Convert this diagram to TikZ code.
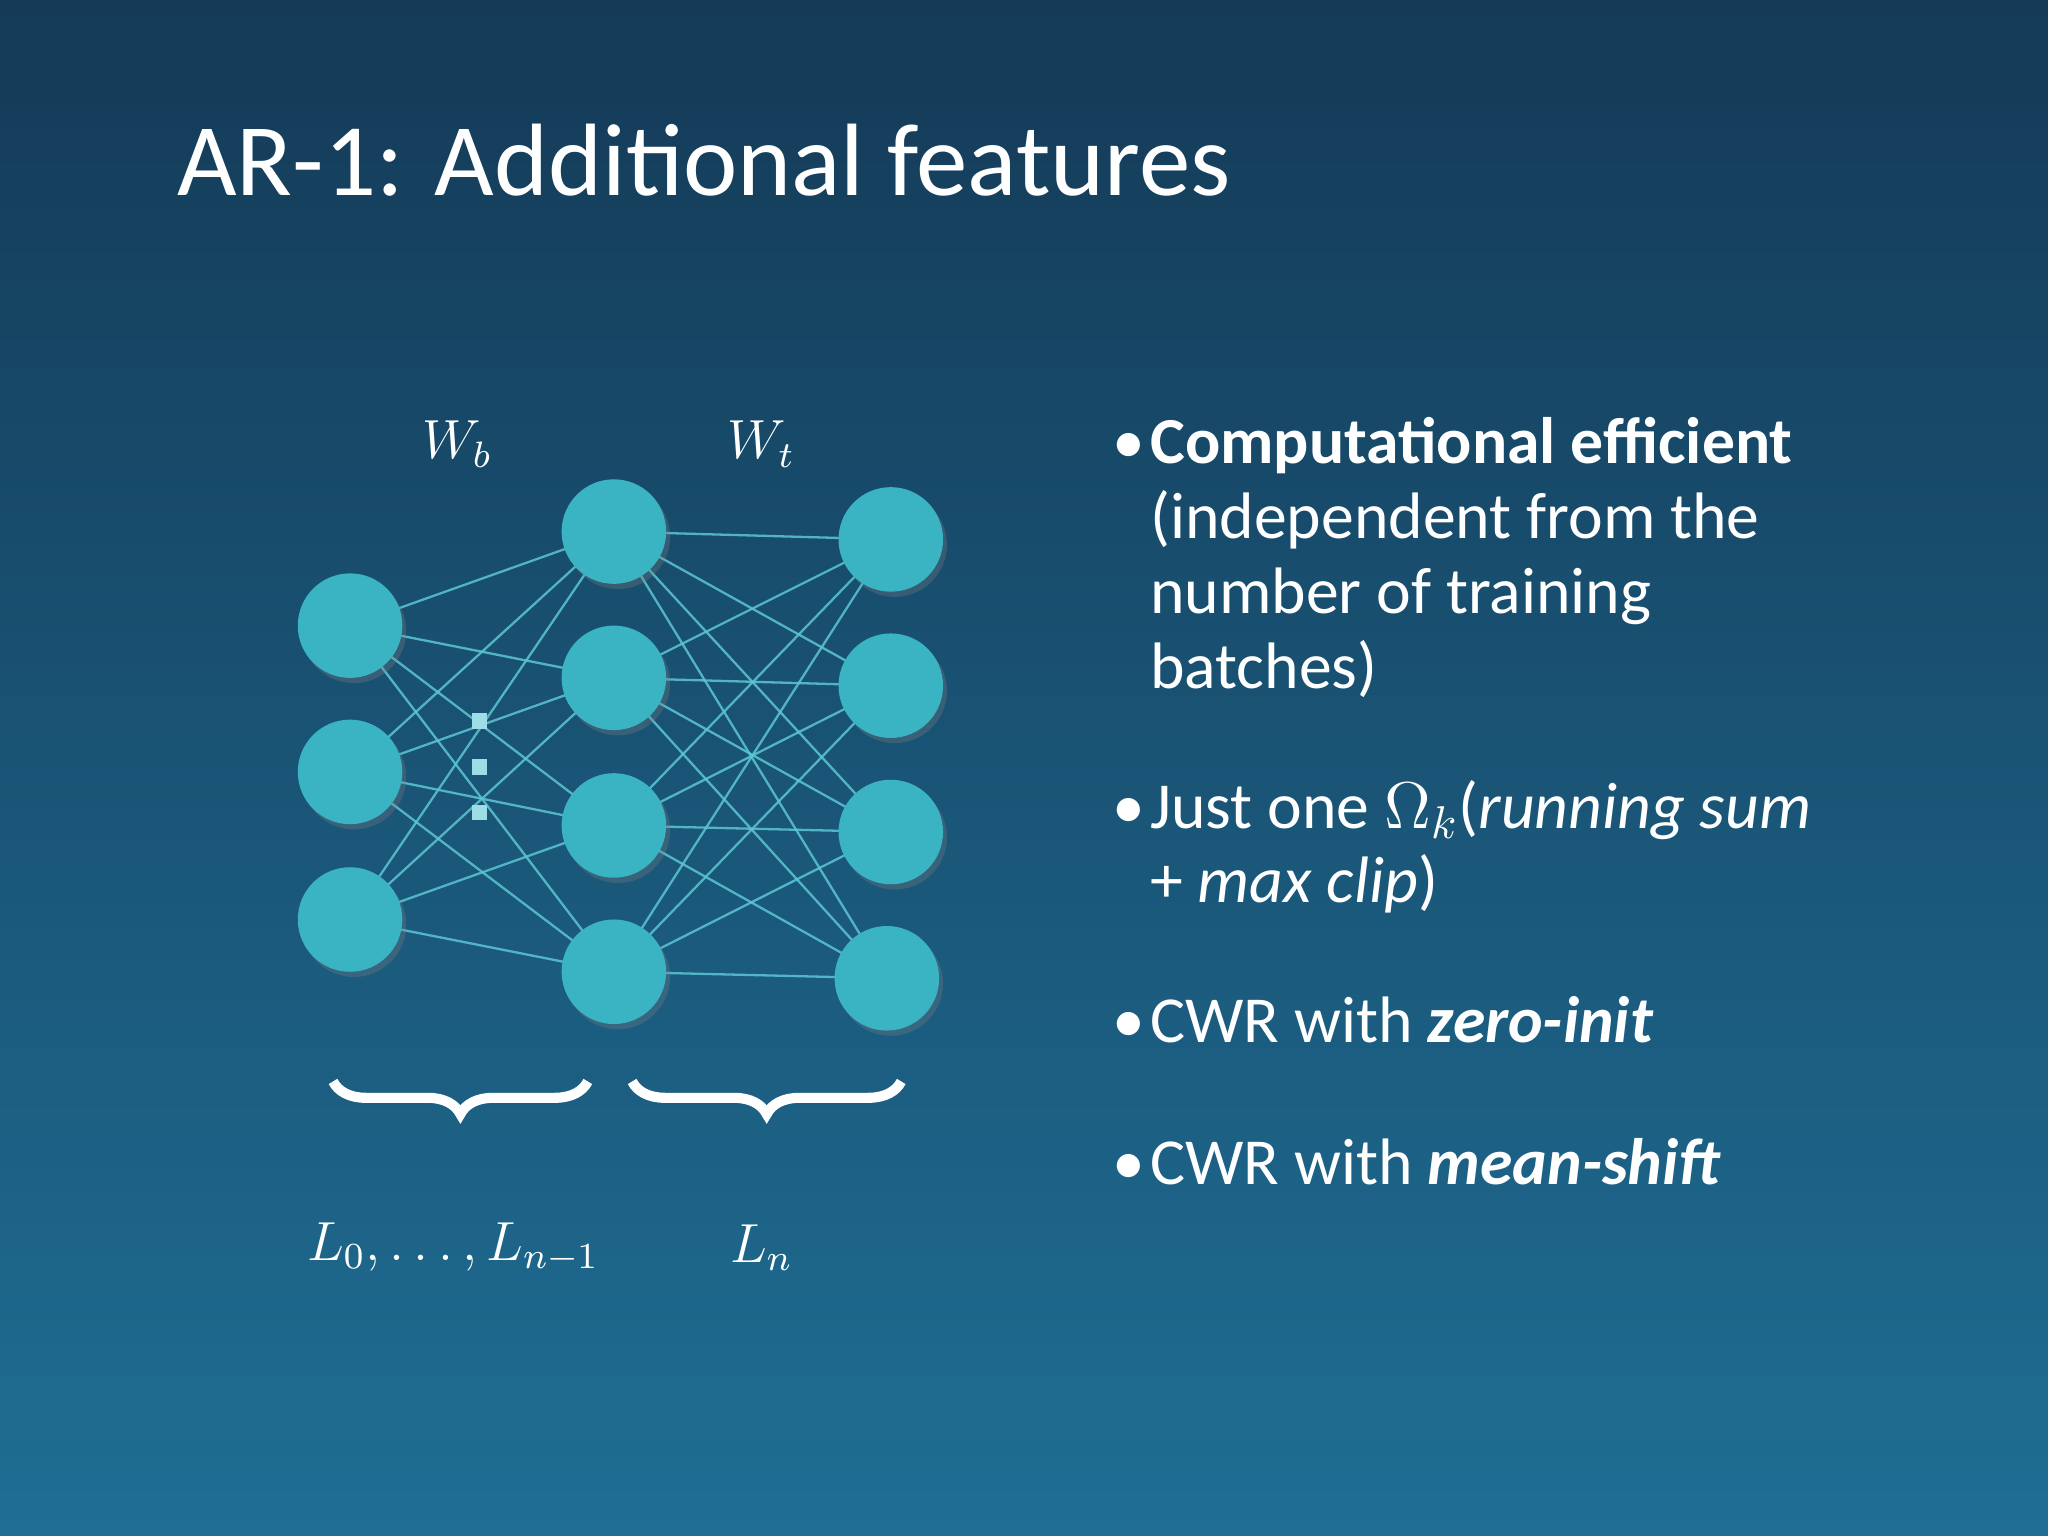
\documentclass[tikz,border=0pt]{standalone}
\usepackage{fontspec}
\setmainfont{Carlito}
\usetikzlibrary{decorations.pathreplacing,shadows}
\definecolor{bgtop}{HTML}{143A57}
\definecolor{bgbot}{HTML}{1F6E94}
\definecolor{neur}{HTML}{3AB3C3}
\definecolor{edge}{HTML}{5CC6D3}
\begin{document}
\begin{tikzpicture}[x=0.01cm,y=-0.01cm,
  neuron/.style={circle,fill=neur,minimum size=0.8cm,inner sep=0pt,drop shadow={opacity=0.3,shadow xshift=0.03cm,shadow yshift=-0.04cm}},
  conn/.style={edge,line width=0.5pt,opacity=0.85},
  txt/.style={anchor=base west,text=white,font=\fontsize{14.3}{16}\selectfont,inner sep=0pt},
  lab/.style={text=white,font=\fontsize{12}{14}\selectfont},
  brace/.style={white,line width=2.2pt,decorate,decoration={brace,mirror,amplitude=0.25cm}}]
\shade[top color=bgtop,bottom color=bgbot] (0,0) rectangle (1568,1176);
\useasboundingbox (0,0) rectangle (1568,1176);
\node[anchor=base west,text=white,font=\fontsize{22.4}{24}\selectfont,inner sep=0pt] (title) at (135,150) {AR-1: Additional features};
\foreach \i/\y in {1/479,2/591,3/704} \coordinate (a\i) at (268,\y);
\foreach \i/\y in {1/407,2/519,3/632,4/744} \coordinate (b\i) at (470,\y);
\foreach \i/\y/\x in {1/413/682,2/525/682,3/637/682,4/749/679} \coordinate (c\i) at (\x,\y);
\foreach \i in {1,2,3} \foreach \j in {1,2,3,4} \draw[conn] (a\i) -- (b\j);
\foreach \i in {1,2,3,4} \foreach \j in {1,2,3,4} \draw[conn] (b\i) -- (c\j);
\foreach \i in {1,2,3} \node[neuron] (na\i) at (a\i) {};
\foreach \i in {1,2,3,4} \node[neuron] (nb\i) at (b\i) {};
\foreach \i in {1,2,3,4} \node[neuron] (nc\i) at (c\i) {};
\foreach \y/\n in {552/d1,587/d2,622/d3} \node[fill=edge!60!white,minimum size=0.12cm,inner sep=0pt] (\n) at (367,\y) {};
\node[lab] (wb) at (350,340) {$W_b$};
\node[lab] (wt) at (583,340) {$W_t$};
\coordinate (br1a) at (255,828); \coordinate (br1b) at (450,828);
\coordinate (br2a) at (484,828); \coordinate (br2b) at (690,828);
\draw[brace] (br1a) -- (br1b);
\draw[brace] (br2a) -- (br2b);
\node[lab] (l0) at (347,955) {$L_0,\dots,L_{n-1}$};
\node[lab] (ln) at (583,955) {$L_n$};
\foreach \y/\n in {355/p1,634/p2,798/p3,907/p4} \node[txt] (\n) at (851,\y) {•};
\node[txt] (t1) at (880,355) {\textbf{Computational efficient}};
\node[txt] (t2) at (880,412) {(independent from the};
\node[txt] (t3) at (880,470) {number of training};
\node[txt] (t4) at (880,527) {batches)};
\node[txt] (t5) at (880,634) {Just one $\Omega_k$(\textit{running sum}};
\node[txt] (t6) at (880,691) {+ \textit{max clip})};
\node[txt] (t7) at (880,798) {CWR with \textbf{\textit{zero-init}}};
\node[txt] (t8) at (880,907) {CWR with \textbf{\textit{mean-shift}}};
\end{tikzpicture}
\end{document}
